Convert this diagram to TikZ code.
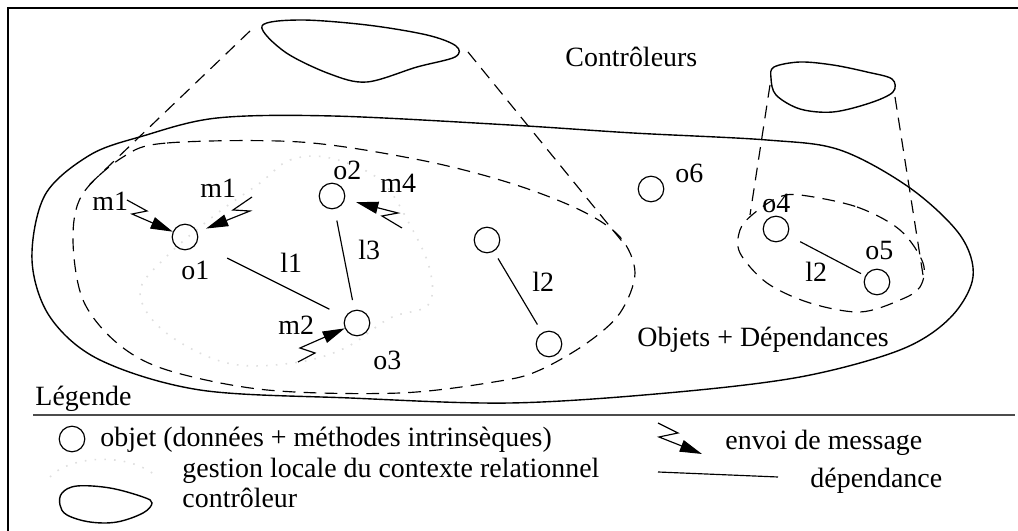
\documentclass[tikz,border=0pt]{standalone}
\usepackage{fontspec}
\setmainfont{Liberation Serif}
\usetikzlibrary{arrows.meta,positioning}

\begin{document}
\begin{tikzpicture}[
  x=0.43pt, y=-0.43pt,
  objNode/.style={circle, draw, minimum size=11pt, inner sep=0pt, line width=0.5pt},
  lbl/.style={inner sep=0pt, anchor=base west, font=\fontsize{12}{14}\selectfont},
  depLine/.style={line width=0.5pt},
  msgArrow/.style={line width=0.5pt, -{Triangle[length=9.5pt,width=5.2pt]}},
  dashLine/.style={line width=0.5pt, dash pattern=on 5.5pt off 3.5pt},
  localZone/.style={gray!25, line width=0.7pt, dash pattern=on 0.7pt off 3.5pt},
  blob/.style={line width=0.6pt}
]
  \useasboundingbox (0,0) rectangle (1018,531);
  % frame
  \draw[line width=1pt] (8,531) -- (8,8) -- (1018,8);

  % controllers
  \draw[blob] plot[smooth cycle, tension=0.55] coordinates {(262,26) (300,20) (367,25)
    (427,35) (456,46) (455,57) (417,67) (367,82) (330,74) (285,52)};
  \draw[blob] plot[smooth cycle, tension=0.55] coordinates {(774,67) (800,62) (833,65)
    (867,72) (892,79) (893,92) (870,103) (833,112) (800,109) (776,95) (771,78)};
  \node[lbl] (ctrlLbl) at (565,67) {Contrôleurs};

  % objects + dependencies zone
  \draw[blob] plot[smooth cycle, tension=0.55] coordinates {(90,155) (143,136) (217,118)
    (333,116) (510,125) (633,133) (767,140) (840,150) (910,188) (960,235) (973,277)
    (950,318) (900,350) (800,377) (667,393) (510,403) (350,398) (200,390) (100,360)
    (50,317) (32,260) (45,195)};
  \node[lbl] (zoneLbl) at (637,347) {Objets + Dépendances};

  % zones seen by the controllers
  \draw[dashLine] plot[smooth cycle, tension=0.55] coordinates {(123,157) (167,143)
    (300,142) (420,160) (510,183) (580,210) (620,237) (635,273) (620,313) (587,343)
    (540,370) (500,381) (400,393) (267,390) (167,370) (117,343) (83,300) (73,240)
    (82,195)};
  \draw[dashLine] plot[smooth cycle, tension=0.55] coordinates {(800,195) (857,207)
    (900,230) (923,263) (920,287) (900,300) (860,312) (810,303) (767,283) (740,253)
    (740,230) (752,215) (777,198)};
  \coordinate (cA1) at (250,31);
  \coordinate (cA2) at (88,186);
  \coordinate (cA3) at (468,52);
  \coordinate (cA4) at (625,245);
  \coordinate (cB1) at (770,85);
  \coordinate (cB2) at (750,215);
  \coordinate (cB3) at (895,97);
  \coordinate (cB4) at (923,275);
  \draw[dashLine] (cA1) -- (cA2);
  \draw[dashLine] (cA3) -- (cA4);
  \draw[dashLine] (cB1) -- (cB2);
  \draw[dashLine] (cB3) -- (cB4);

  % local relational context
  \draw[localZone] plot[smooth cycle, tension=0.6] coordinates {(260,183) (290,160)
    (330,158) (380,180) (410,225) (430,270) (428,305) (390,318) (345,348) (293,363)
    (227,363) (165,332) (140,293) (165,258) (215,215)};

  % objects
  \node[objNode] (o1) at (185,237) {};
  \node[objNode] (o2) at (332,196) {};
  \node[objNode] (o3) at (357,323) {};
  \node[objNode] (objA) at (487,240) {};
  \node[objNode] (objB) at (549,344) {};
  \node[objNode] (o6) at (651,189) {};
  \node[objNode] (o4) at (776,229) {};
  \node[objNode] (o5) at (877,282) {};
  \node[lbl] (o1Lbl) at (181,280) {o1};
  \node[lbl] (o2Lbl) at (333,180) {o2};
  \node[lbl] (o3Lbl) at (373,370) {o3};
  \node[lbl] (o4Lbl) at (762,213) {o4};
  \node[lbl] (o5Lbl) at (865,260) {o5};
  \node[lbl] (o6Lbl) at (675,183) {o6};

  % dependencies
  \draw[depLine, shorten <=14.5pt, shorten >=7.5pt] (o1) -- (o3);
  \draw[depLine, shorten <=5pt, shorten >=4.3pt] (o2) -- (o3);
  \draw[depLine, shorten <=3.5pt, shorten >=4pt] (objA) -- (objB);
  \draw[depLine, shorten <=6pt, shorten >=2pt] (o4) -- (o5);
  \node[lbl] (l1Lbl) at (280,273) {l1};
  \node[lbl] (l3Lbl) at (358,260) {l3};
  \node[lbl] (l2Lbl) at (532,292) {l2};
  \node[lbl] (l2bLbl) at (805,282) {l2};

  % messages
  \coordinate (m1aStart) at (127,200);
  \coordinate (m1bStart) at (252,197);
  \coordinate (m4Start) at (402,228);
  \coordinate (m2Start) at (298,362);
  \draw[msgArrow] (m1aStart) -- ++(20,11) -- ++(-15,3) -- (o1);
  \draw[msgArrow, shorten >=4pt] (m1bStart) -- ++(-19,13) -- ++(17,1) -- (o1);
  \draw[msgArrow, shorten >=5pt] (m4Start) -- ++(-20,-12) -- ++(16,-3) -- (o2);
  \draw[msgArrow] (m2Start) -- ++(17,-9) -- ++(-15,-5) -- (o3);
  \node[lbl] (m1aLbl) at (92,211) {m1};
  \node[lbl] (m1bLbl) at (200,198) {m1};
  \node[lbl] (m4Lbl) at (380,193) {m4};
  \node[lbl] (m2Lbl) at (278,335) {m2};

  % legend
  \node[lbl] (legTitle) at (35,406) {Légende};
  \draw[line width=0.8pt, black!70] (33,415) -- (1015,415);
  \node[objNode] (legObj) at (72,439) {};
  \node[lbl] (legObjLbl) at (100,447) {objet (données + méthodes intrinsèques)};
  \draw[localZone] (50,477) .. controls (70,455) and (130,452) .. (157,477);
  \node[lbl] (legZoneLbl) at (182,478) {gestion locale du contexte relationnel};
  \draw[blob] plot[smooth cycle, tension=0.6] coordinates {(62,493) (77,486) (110,488)
    (143,497) (152,503) (143,513) (117,522) (90,522) (67,515) (60,505)};
  \node[lbl] (legCtrlLbl) at (182,508) {contrôleur};
  \coordinate (legMsgA) at (658,423);
  \coordinate (legMsgB) at (702,454);
  \draw[msgArrow] (legMsgA) -- ++(20,10) -- ++(-19,4) -- (legMsgB);
  \node[lbl] (legMsgLbl) at (725,450) {envoi de message};
  \coordinate (legDepA) at (658,472);
  \coordinate (legDepB) at (778,477);
  \draw[depLine] (legDepA) -- (legDepB);
  \node[lbl] (legDepLbl) at (810,488) {dépendance};
\end{tikzpicture}
\end{document}
